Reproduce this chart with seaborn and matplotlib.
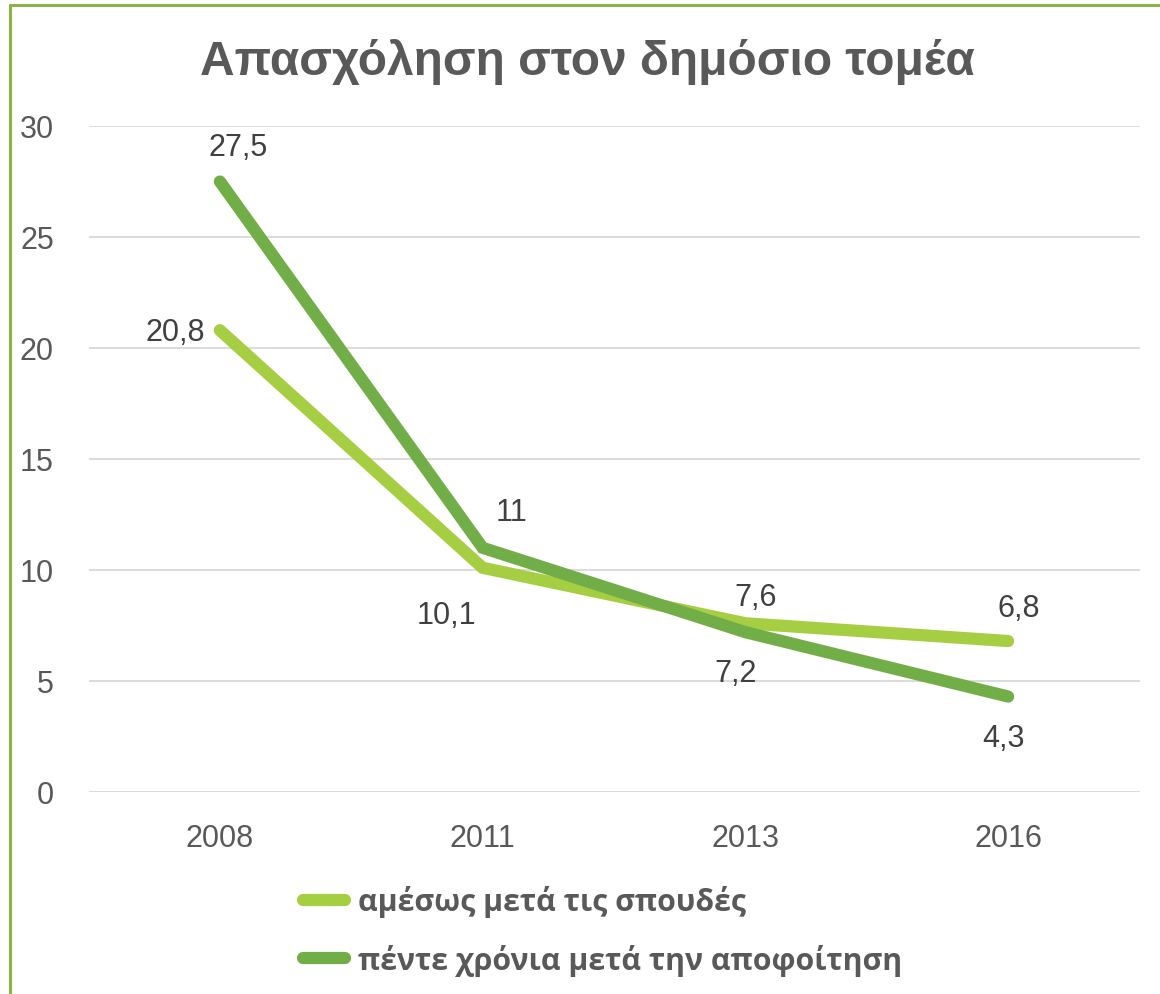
import pandas as pd
import seaborn as sns
import matplotlib.pyplot as plt
from matplotlib.lines import Line2D

years = ["2008", "2011", "2013", "2016"]
series_names = ["αμέσως μετά τις σπουδές", "πέντε χρόνια μετά την αποφοίτηση"]
right_after = [20.8, 10.1, 7.6, 6.8]
five_years = [27.5, 11, 7.2, 4.3]
colors = ["#A6CE42", "#72AE47"]

df = pd.DataFrame({
    "year": years * 2,
    "value": right_after + five_years,
    "series": [series_names[0]] * 4 + [series_names[1]] * 4,
})

sns.set_style("white")
plt.rcParams["font.family"] = ["Liberation Sans", "DejaVu Sans"]

W, H = 1160, 995
fig = plt.figure(figsize=(W / 100, H / 100), dpi=100)
ax = fig.add_axes([88.5 / W, 1 - 793 / H, (1139.5 - 88.5) / W, (793 - 127) / H])

sns.lineplot(data=df, x="year", y="value", hue="series", palette=colors,
             linewidth=8.8, sort=False, legend=False, ax=ax,
             solid_capstyle="round", solid_joinstyle="miter")

ax.set_xlim(-0.5, 3.5)
ax.set_ylim(0, 30)
ax.set_yticks(range(0, 31, 5))
ax.yaxis.grid(True, color="#D9D9D9", linewidth=1.3)
ax.set_axisbelow(True)
for s in ax.spines.values():
    s.set_visible(False)
ax.tick_params(axis="both", length=0, labelsize=22, labelcolor="#595959")
ax.tick_params(axis="y", pad=25)
ax.tick_params(axis="x", pad=22)
ax.set_xlabel("")
ax.set_ylabel("")

# data labels, offsets in pixels
offsets = [
    [(-45, -2), (-36, -47), (10, 26), (11, 33)],
    [(18, 34), (29, 36), (-10, -41), (-5, -41)],
]
for vals, offs in zip([right_after, five_years], offsets):
    for i, (v, (dx, dy)) in enumerate(zip(vals, offs)):
        ax.annotate(f"{v:g}".replace(".", ","), (i, v), xytext=(dx, dy),
                    textcoords="offset pixels", ha="center", va="center",
                    fontsize=22, color="#404040")

fig.text(0.506, 1 - 62 / H, "Απασχόληση στον δημόσιο τομέα", ha="center",
         va="center", fontsize=34.5, fontweight="bold", color="#595959")

handles = [Line2D([], [], color=c, linewidth=8.8, solid_capstyle="round")
           for c in colors]
leg = fig.legend(handles, series_names, loc="upper left",
                 bbox_to_anchor=(291 / W, 1 - 874 / H), frameon=False,
                 prop={"family": ["Open Sans", "DejaVu Sans"], "weight": "bold", "size": 21.8},
                 labelcolor="#595959", handlelength=1.4, handletextpad=0.4,
                 labelspacing=0.88, borderaxespad=0)

# frame border (left and top)
fig.add_artist(Line2D([9.5 / W, 9.5 / W], [0, 1 - 5.5 / H], color="#8DB346",
                      linewidth=2.2, transform=fig.transFigure))
fig.add_artist(Line2D([9.5 / W, 1], [1 - 5.5 / H, 1 - 5.5 / H], color="#8DB346",
                      linewidth=2.2, transform=fig.transFigure))

fig.savefig("out.png", dpi=100, facecolor="white")
